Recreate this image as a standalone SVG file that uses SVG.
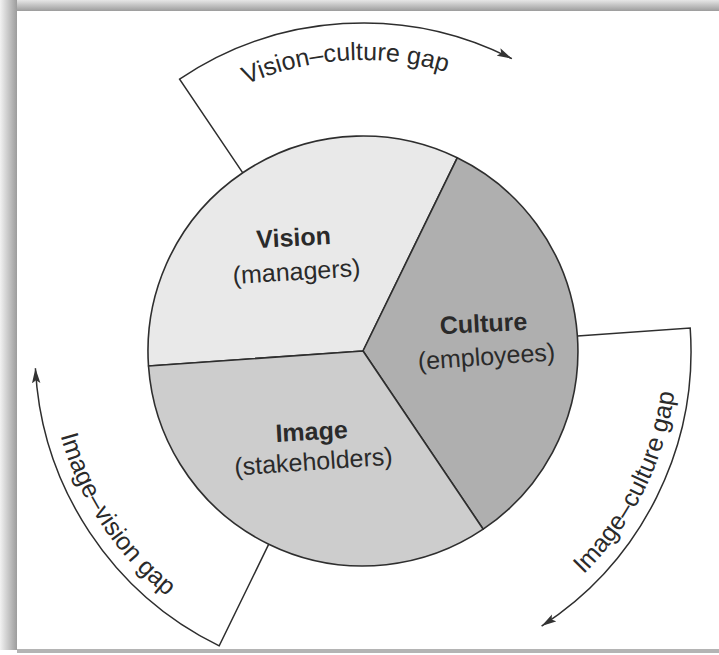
<svg xmlns="http://www.w3.org/2000/svg" width="719" height="655" viewBox="0 0 719 655">
  <defs>
    <linearGradient id="shadowTop" x1="0" y1="0" x2="0" y2="1">
      <stop offset="0" stop-color="#e6e6e6"/>
      <stop offset="1" stop-color="#9c9c9c"/>
    </linearGradient>
    <linearGradient id="shadowLeft" x1="0" y1="0" x2="1" y2="0">
      <stop offset="0" stop-color="#f2f2f2"/>
      <stop offset="1" stop-color="#9c9c9c"/>
    </linearGradient>
    <marker id="arrow" markerUnits="userSpaceOnUse" markerWidth="16" markerHeight="10" refX="15" refY="5" orient="auto">
      <path d="M0,0.8 L15,5 L0,9.2 L3,5 Z" fill="#333"/>
    </marker>
    <path id="tp-vc" d="M 200.3 109.7 A 291 291 0 0 1 495.1 91.7"/>
    <path id="tp-ic" d="M 534.0 614.3 A 314 314 0 0 0 676.2 329.1"/>
    <path id="tp-iv" d="M 49.4 367.4 A 314 314 0 0 0 225.4 633.2"/>
  </defs>
  <style>
    .sector { stroke: #2e2e2e; stroke-width: 1.6; stroke-linejoin: round; }
    .line { fill: none; stroke: #2e2e2e; stroke-width: 1.5; }
    .t { font-family: "Liberation Sans", Arial, sans-serif; font-size: 25px; fill: #2a2a2a; }
    .b { font-weight: bold; }
  </style>

  <!-- frame -->
  <rect x="0" y="0" width="719" height="655" fill="#ffffff"/>
  <rect x="0" y="0" width="719" height="11" fill="url(#shadowTop)"/>
  <rect x="0" y="0" width="17" height="650" fill="url(#shadowLeft)"/>
  <rect x="17" y="11" width="702" height="638" fill="#ffffff"/>
  <rect x="17" y="649" width="702" height="4" fill="#b4b4b4"/>

  <!-- nodes -->
  <g id="node-vision">
    <path class="sector" fill="#e9e9e9" d="M 363 351 L 148.5 366.0 A 215 215 0 0 1 457.25 157.8 Z"/>
    <text class="t b" x="294" y="246" text-anchor="middle" transform="rotate(-3 294 246)">Vision</text>
    <text class="t" x="297" y="280" text-anchor="middle" transform="rotate(-3.5 297 280)">(managers)</text>
  </g>
  <g id="node-culture">
    <path class="sector" fill="#afafaf" d="M 363 351 L 457.25 157.8 A 215 215 0 0 1 483.2 529.2 Z"/>
    <text class="t b" x="484" y="332" text-anchor="middle" transform="rotate(-3 484 332)">Culture</text>
    <text class="t" x="487" y="365" text-anchor="middle" transform="rotate(-4 487 365)">(employees)</text>
  </g>
  <g id="node-image">
    <path class="sector" fill="#cdcdcd" d="M 363 351 L 483.2 529.2 A 215 215 0 0 1 148.5 366.0 Z"/>
    <text class="t b" x="312" y="440" text-anchor="middle" transform="rotate(-3 312 440)">Image</text>
    <text class="t" x="314" y="470" text-anchor="middle" transform="rotate(-4 314 470)">(stakeholders)</text>
  </g>

  <!-- connectors -->
  <g id="connectors">
    <g id="gap-vision-culture">
      <path class="line" d="M 242.8 172.8 L 179.6 79.1 A 328 328 0 0 1 511.9 58.7" marker-end="url(#arrow)"/>
      <text class="t"><textPath href="#tp-vc" startOffset="50%" text-anchor="middle">Vision–culture gap</textPath></text>
    </g>
    <g id="gap-image-culture">
      <path class="line" d="M 577.5 336.0 L 690.2 328.1 A 328 328 0 0 1 541.6 626.1" marker-end="url(#arrow)"/>
      <text class="t"><textPath href="#tp-ic" startOffset="50%" text-anchor="middle">Image–culture gap</textPath></text>
    </g>
    <g id="gap-image-vision">
      <path class="line" d="M 268.75 544.2 L 219.2 645.8 A 328 328 0 0 1 35.4 368.2" marker-end="url(#arrow)"/>
      <text class="t"><textPath href="#tp-iv" startOffset="50%" text-anchor="middle">Image–vision gap</textPath></text>
    </g>
  </g>
</svg>
